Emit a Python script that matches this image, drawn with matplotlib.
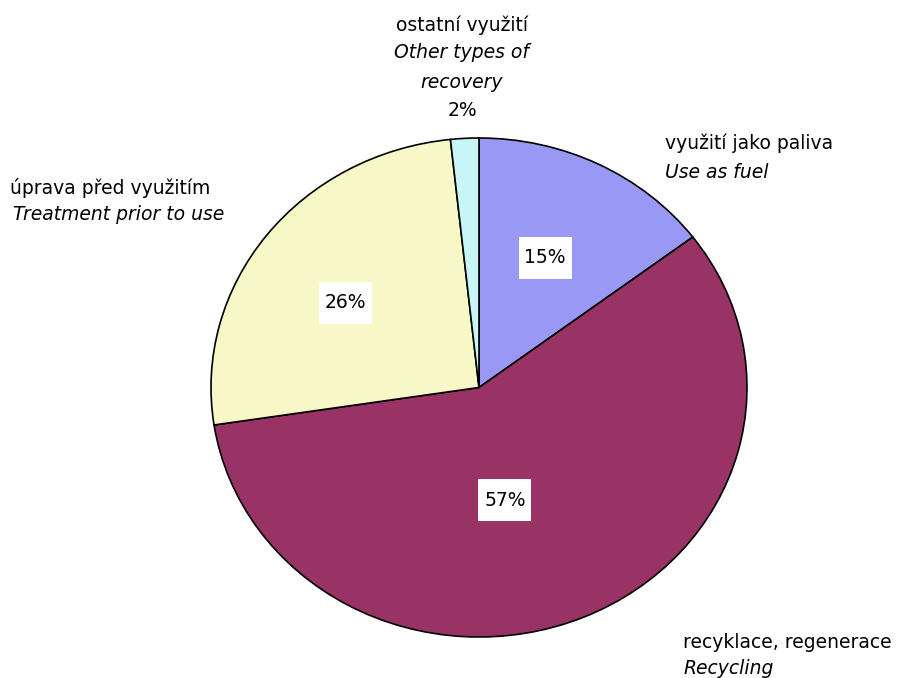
import matplotlib.pyplot as plt
from matplotlib.patches import Rectangle

# Data
labels_cz = ['využití jako paliva', 'recyklace, regenerace', 'úprava před využitím', 'ostatní využití']
labels_en = ['Use as fuel', 'Recycling', 'Treatment prior to use', 'Other types of', 'recovery']
shares = [14.7, 57.9, 25.7, 1.7]          # odhad z obrazku (nezaokrouhleno)
pct_labels = ['15%', '57%', '26%', '2%']  # popisky jak jsou v grafu
colors = ['#9999F5', '#993366', '#F7F7C8', '#C8F5F5']

plt.rcParams['font.family'] = ['DejaVu Sans']
FS = 13.5

W, H = 900, 678
fig = plt.figure(figsize=(9, 6.78), dpi=100)
ax = fig.add_axes([211 / W, 41 / H, 536 / W, 499 / H])

wedges, _ = ax.pie(shares, colors=colors, startangle=90, counterclock=False,
                   wedgeprops=dict(edgecolor='black', linewidth=1.2))
ax.set_aspect('auto')
ax.set_xlim(-1, 1)
ax.set_ylim(-1, 1)
ax.axis('off')

# procentni popisky uvnitr (stred v pixelech obrazku)
inside = [(545, 258), (505, 500), (345, 303), None]
for lab, pos in zip(pct_labels, inside):
    if pos is None:
        continue
    bw, bh = 53, 42
    fig.patches.append(Rectangle(((pos[0] - bw / 2) / W, 1 - (pos[1] + bh / 2) / H), bw / W, bh / H,
                                 transform=fig.transFigure, facecolor='white', edgecolor='none',
                                 zorder=3))
    fig.text(pos[0] / W, 1 - pos[1] / H, lab, fontsize=FS, ha='center', va='center', zorder=4)

# vnejsi popisky
def lbl(x, y, txt, style='normal', ha='left'):
    fig.text(x / W, 1 - y / H, txt, fontsize=FS, ha=ha, va='center', style=style)

lbl(665, 143, labels_cz[0])
lbl(665, 172, labels_en[0], 'italic')
lbl(683, 642, labels_cz[1])
lbl(683, 669, labels_en[1], 'italic')
lbl(10, 188, labels_cz[2])
lbl(13, 214, labels_en[2], 'italic')
lbl(462, 25, labels_cz[3], ha='center')
lbl(462, 53, labels_en[3], 'italic', ha='center')
lbl(462, 82, labels_en[4], 'italic', ha='center')
lbl(462, 110, pct_labels[3], ha='center')

fig.savefig('out.png', dpi=100, facecolor='white')
